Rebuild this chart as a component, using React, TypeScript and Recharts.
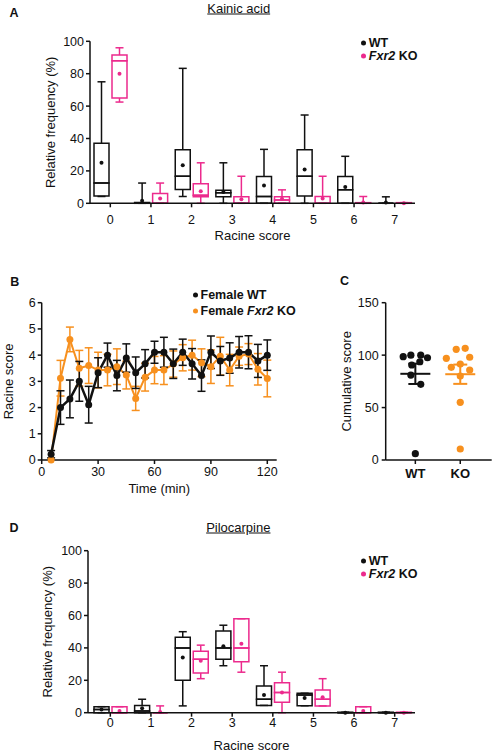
import React from "react";
import {
  ComposedChart,
  Bar,
  XAxis,
  YAxis,
  LineChart,
  Line,
  ErrorBar,
  ScatterChart,
  Scatter,
} from "recharts";

const FONT = '"Liberation Sans", Arial, Helvetica, sans-serif';
const INK = "#111111";
const PINK = "#EC2A8D";
const ORANGE = "#F7901E";

// ---- A / D: Racine score categories ----
const racineScores = ["0", "1", "2", "3", "4", "5", "6", "7"];

// A: kainic acid, WT
const kaWtMin = [4.2, 0, 4.2, 0, 0, 0, 0, 0];
const kaWtQ1 = [4.5, 0, 8.5, 4, 0, 4.5, 0, 0];
const kaWtMedian = [12.5, 0, 16.7, 6.5, 4.2, 16.7, 8.3, 0];
const kaWtQ3 = [37, 0.5, 33, 8, 16.5, 33, 16.5, 0];
const kaWtMax = [75, 12.5, 83.3, 25, 33.3, 54.5, 29, 4];
const kaWtMean = [25, 1.5, 23.5, 7, 11, 20.8, 10, 0.5];

// A: kainic acid, Fxr2 KO
const kaKoMin = [62.5, 0, 0, 0, 0, 0, 0, 0];
const kaKoQ1 = [65, 0, 4, 0, 0, 0, 0, 0];
const kaKoMedian = [88, 0, 5, 0, 2, 0, 0, 0];
const kaKoQ3 = [91.5, 6, 12, 4, 4, 4.2, 0.4, 0.4];
const kaKoMax = [96, 12.5, 25, 16.7, 8.3, 16.7, 4.2, 0.4];
const kaKoMean = [80, 3, 7.5, 2.5, 2.8, 3, 0.5, 0];

// D: pilocarpine, WT
const piWtMin = [0, 0, 4.2, 29, 4.5, 4.3, 0, 0];
const piWtQ1 = [0, 0, 20, 33, 4.5, 4.3, 0, 0];
const piWtMedian = [2, 1, 40, 40, 8.3, 11, 0, 0];
const piWtQ3 = [3.7, 4.5, 46.5, 50.5, 16.5, 12, 0.3, 0.3];
const piWtMax = [3.7, 8.3, 50, 54, 29, 12, 0.3, 0.3];
const piWtMean = [2, 2.7, 34, 41, 11, 9, 0, 0];

// D: pilocarpine, Fxr2 KO
const piKoMin = [0, 0, 21, 25, 0, 4.2, 0, 0];
const piKoQ1 = [0, 0, 24.5, 31.5, 6.5, 4.2, 0, 0];
const piKoMedian = [0, 0, 33, 40, 12.5, 8.3, 0, 0];
const piKoQ3 = [3.7, 0, 38, 58, 18.5, 14, 3.7, 0.3];
const piKoMax = [3.7, 4.2, 41.7, 58, 25, 21, 3.7, 0.3];
const piKoMean = [1, 0.5, 32, 42.5, 12.5, 9.5, 1, 0];

const freqTicks = [0, 20, 40, 60, 80, 100];

// ---- B: Racine score over time ----
const time = [5, 10, 15, 20, 25, 30, 35, 40, 45, 50, 55, 60, 65, 70, 75, 80, 85, 90, 95, 100, 105, 110, 115, 120];
const wtScore = [0.22, 2.0, 2.33, 3.0, 2.11, 3.33, 4.0, 3.22, 3.89, 3.33, 3.67, 4.11, 4.11, 3.67, 4.11, 3.67, 3.22, 4.11, 3.78, 3.89, 4.11, 4.11, 3.78, 4.0];
const wtSem = [0.14, 0.64, 0.72, 0.76, 0.7, 0.57, 0.46, 0.58, 0.54, 0.6, 0.54, 0.42, 0.57, 0.56, 0.5, 0.58, 0.6, 0.62, 0.55, 0.58, 0.6, 0.63, 0.63, 0.58];
const koScore = [0, 3.12, 4.6, 3.5, 3.6, 3.43, 3.43, 3.56, 3.24, 2.35, 3.16, 3.43, 3.43, 3.66, 3.9, 4.0, 3.71, 3.56, 3.96, 3.43, 3.96, 4.04, 3.46, 3.11];
const koSem = [0, 0.68, 0.47, 0.68, 0.68, 0.68, 0.6, 0.68, 0.53, 0.46, 0.53, 0.52, 0.55, 0.5, 0.5, 0.57, 0.53, 0.64, 0.72, 0.6, 0.35, 0.4, 0.6, 0.7];
const timeTicks = [0, 30, 60, 90, 120];
const scoreTicks = [0, 1, 2, 3, 4, 5, 6];

// ---- C: cumulative score per animal ----
const wtCumulative = [98.5, 100, 100, 97.5, 90.6, 93.7, 81, 72.2, 6];
const wtJitter = [-0.27, -0.1, 0.12, 0.27, -0.08, 0.1, -0.1, 0.12, 0];
const koCumulative = [97, 105.5, 106.5, 98, 88.4, 91.5, 85.8, 80, 55, 10.5];
const koJitter = [-0.31, -0.09, 0.11, 0.21, -0.2, 0, 0.21, 0, 0, 0];
const groupMean = [82.2, 81.8];
const groupSem = [9.7, 9.2];
const groupNames = ["WT", "KO"];
const cumulativeTicks = [0, 50, 100, 150];

type Stats = { min: number[]; q1: number[]; med: number[]; q3: number[]; max: number[]; mean: number[] };

// stacked segments: base -> lower whisker -> lower box -> upper box -> upper whisker
function boxTable(wt: Stats, ko: Stats) {
  return racineScores.map((score, i) => ({
    score,
    wtBase: wt.min[i],
    wtLow: wt.q1[i] - wt.min[i],
    wtBox1: wt.med[i] - wt.q1[i],
    wtBox2: wt.q3[i] - wt.med[i],
    wtHigh: wt.max[i] - wt.q3[i],
    wtMean: wt.mean[i],
    koBase: ko.min[i],
    koLow: ko.q1[i] - ko.min[i],
    koBox1: ko.med[i] - ko.q1[i],
    koBox2: ko.q3[i] - ko.med[i],
    koHigh: ko.max[i] - ko.q3[i],
    koMean: ko.mean[i],
  }));
}

const kainicData = boxTable(
  { min: kaWtMin, q1: kaWtQ1, med: kaWtMedian, q3: kaWtQ3, max: kaWtMax, mean: kaWtMean },
  { min: kaKoMin, q1: kaKoQ1, med: kaKoMedian, q3: kaKoQ3, max: kaKoMax, mean: kaKoMean }
);
const pilocarpineData = boxTable(
  { min: piWtMin, q1: piWtQ1, med: piWtMedian, q3: piWtQ3, max: piWtMax, mean: piWtMean },
  { min: piKoMin, q1: piKoQ1, med: piKoMedian, q3: piKoQ3, max: piKoMax, mean: piKoMean }
);

const timeData = time.map((t, i) => ({
  time: t,
  wt: wtScore[i],
  wtErr: wtSem[i],
  ko: koScore[i],
  koErr: koSem[i],
}));

const wtPoints = wtCumulative.map((v, i) => ({ x: 1 + wtJitter[i], y: v }));
const koPoints = koCumulative.map((v, i) => ({ x: 2 + koJitter[i], y: v }));
const wtSummary = [{ x: 1, y: groupMean[0], err: groupSem[0] }];
const koSummary = [{ x: 2, y: groupMean[1], err: groupSem[1] }];

const SW = 1.5;
const CAP = 8;

function span(p: any) {
  const top = Math.min(p.y, p.y + p.height);
  const bottom = Math.max(p.y, p.y + p.height);
  return { cx: p.x + p.width / 2, top, bottom };
}

const emptyShape = () => <g />;

function whisker(color: string, capAt: "top" | "bottom") {
  return (p: any) => {
    const { cx, top, bottom } = span(p);
    const cy = capAt === "top" ? top : bottom;
    return (
      <g>
        <line x1={cx} x2={cx} y1={top} y2={bottom} stroke={color} strokeWidth={SW} />
        <line x1={cx - CAP / 2} x2={cx + CAP / 2} y1={cy} y2={cy} stroke={color} strokeWidth={SW} />
      </g>
    );
  };
}

function boxPart(color: string) {
  return (p: any) => {
    const { top, bottom } = span(p);
    const d = `M${p.x},${top}H${p.x + p.width}V${bottom}H${p.x}Z`;
    return <path d={d} fill="none" stroke={color} strokeWidth={SW} />;
  };
}

function meanDot(color: string) {
  return (p: any) => <circle cx={p.x + p.width / 2} cy={p.y} r={2} fill={color} />;
}

const tickStyle = { fill: INK, fontSize: 12.5, fontFamily: FONT };
const axisStyle = { stroke: INK, strokeWidth: SW };
const titleStyle = { fill: INK, fontSize: 13, fontFamily: FONT };

// plot area is always 162px tall (0-100 %)
function BoxPanel({ data, marginTop, marginLeft, height, xHeight, tickMargin, padLeft, labelX, labelOffset }: any) {
  return (
    <ComposedChart
      width={494}
      height={height}
      data={data}
      barSize={15}
      barGap={3}
      margin={{ top: marginTop, right: 79, bottom: Math.max(0, height - marginTop - 162 - xHeight), left: marginLeft }}
    >
      <XAxis
        dataKey="score"
        height={xHeight}
        padding={{ left: padLeft, right: 0 }}
        tick={tickStyle}
        tickSize={4}
        tickMargin={tickMargin}
        axisLine={axisStyle}
        tickLine={axisStyle}
        label={{ value: "Racine score", position: "insideBottom", offset: labelOffset, ...titleStyle }}
      />
      <XAxis xAxisId="mean" dataKey="score" hide padding={{ left: padLeft, right: 0 }} />
      <YAxis
        width={40}
        domain={[0, 100]}
        ticks={freqTicks}
        tick={tickStyle}
        tickSize={4}
        tickMargin={2}
        axisLine={axisStyle}
        tickLine={axisStyle}
        label={{
          value: "Relative frequency (%)",
          angle: -90,
          position: "insideLeft",
          offset: labelX,
          style: { textAnchor: "middle" },
          ...titleStyle,
        }}
      />
      <Bar dataKey="wtBase" stackId="wt" shape={emptyShape} isAnimationActive={false} />
      <Bar dataKey="wtLow" stackId="wt" shape={whisker(INK, "bottom")} isAnimationActive={false} />
      <Bar dataKey="wtBox1" stackId="wt" shape={boxPart(INK)} isAnimationActive={false} />
      <Bar dataKey="wtBox2" stackId="wt" shape={boxPart(INK)} isAnimationActive={false} />
      <Bar dataKey="wtHigh" stackId="wt" shape={whisker(INK, "top")} isAnimationActive={false} />
      <Bar dataKey="koBase" stackId="ko" shape={emptyShape} isAnimationActive={false} />
      <Bar dataKey="koLow" stackId="ko" shape={whisker(PINK, "bottom")} isAnimationActive={false} />
      <Bar dataKey="koBox1" stackId="ko" shape={boxPart(PINK)} isAnimationActive={false} />
      <Bar dataKey="koBox2" stackId="ko" shape={boxPart(PINK)} isAnimationActive={false} />
      <Bar dataKey="koHigh" stackId="ko" shape={whisker(PINK, "top")} isAnimationActive={false} />
      <Bar dataKey="wtMean" xAxisId="mean" shape={meanDot(INK)} isAnimationActive={false} />
      <Bar dataKey="koMean" xAxisId="mean" shape={meanDot(PINK)} isAnimationActive={false} />
    </ComposedChart>
  );
}

function Txt({ x, y, children, size = 13, bold = false, underline = false, align = "center", color = INK }: any) {
  return (
    <div
      style={{
        position: "absolute",
        left: x,
        top: y,
        transform: `translate(${align === "center" ? "-50%" : "0"}, -50%)`,
        fontSize: size,
        fontWeight: bold ? 700 : 400,
        textDecoration: underline ? "underline" : "none",
        lineHeight: 1,
        whiteSpace: "nowrap",
        color,
      }}
    >
      {children}
    </div>
  );
}

function Key({ x, y, color, children }: any) {
  return (
    <div style={{ position: "absolute", left: x - 2.5, top: y, transform: "translateY(-50%)", display: "flex", alignItems: "center", height: 11, lineHeight: "11px", whiteSpace: "nowrap" }}>
      <span style={{ width: 5, height: 5, borderRadius: "50%", background: color, marginRight: 3 }} />
      <span style={{ fontSize: 12.5, fontWeight: 700, color: INK }}>{children}</span>
    </div>
  );
}

const dotShape = (color: string) => (p: any) => <circle cx={p.cx} cy={p.cy} r={3.6} fill={color} />;
const meanLine = (color: string) => (p: any) => (
  <line x1={p.cx - 15} x2={p.cx + 15} y1={p.cy} y2={p.cy} stroke={color} strokeWidth={2} />
);

export default function App() {
  return (
    <div style={{ position: "absolute", left: 0, top: 0, width: 494, height: 752, background: "#fff", fontFamily: FONT, color: INK, overflow: "hidden" }}>
      {/* A */}
      <div style={{ position: "absolute", left: 0, top: 0 }}>
        <BoxPanel data={kainicData} marginTop={41.3} marginLeft={50} height={250} xHeight={40} tickMargin={8} padLeft={0} labelX={0} labelOffset={3.5} />
      </div>

      {/* B */}
      <div style={{ position: "absolute", left: 0, top: 250 }}>
        <LineChart width={300} height={250} data={timeData} margin={{ top: 52.7, right: 23.3, bottom: 5, left: 11.7 }}>
          <XAxis
            dataKey="time"
            type="number"
            domain={[0, 125]}
            ticks={timeTicks}
            height={35}
            tick={tickStyle}
            tickSize={4}
            tickMargin={3}
            axisLine={axisStyle}
            tickLine={axisStyle}
            label={{ value: "Time (min)", position: "insideBottom", offset: 2.2, ...titleStyle }}
          />
          <YAxis
            width={30}
            domain={[0, 6]}
            ticks={scoreTicks}
            tick={tickStyle}
            tickSize={4}
            tickMargin={2}
            axisLine={axisStyle}
            tickLine={axisStyle}
            label={{ value: "Racine score", angle: -90, position: "insideLeft", offset: -3.4, style: { textAnchor: "middle" }, ...titleStyle }}
          />
          <Line dataKey="ko" stroke={ORANGE} strokeWidth={2} dot={{ r: 3.5, fill: ORANGE, stroke: ORANGE, strokeWidth: 0 }} activeDot={false} isAnimationActive={false}>
            <ErrorBar dataKey="koErr" direction="y" width={4} stroke={ORANGE} strokeWidth={1.5} />
          </Line>
          <Line dataKey="wt" stroke={INK} strokeWidth={2.5} dot={{ r: 3.5, fill: INK, stroke: INK, strokeWidth: 0 }} activeDot={false} isAnimationActive={false}>
            <ErrorBar dataKey="wtErr" direction="y" width={4} stroke={INK} strokeWidth={1.5} />
          </Line>
        </LineChart>
      </div>

      {/* C */}
      <div style={{ position: "absolute", left: 300, top: 250 }}>
        <ScatterChart width={194} height={250} margin={{ top: 52.7, right: 2.3, bottom: 5, left: 50.7 }}>
          <XAxis
            dataKey="x"
            type="number"
            domain={[0.34, 2.7]}
            ticks={[1, 2]}
            tickFormatter={(v: number) => groupNames[Math.round(v) - 1]}
            height={35}
            tick={{ ...tickStyle, fontSize: 13, fontWeight: 700 }}
            tickSize={4}
            tickMargin={5}
            axisLine={axisStyle}
            tickLine={axisStyle}
          />
          <YAxis
            dataKey="y"
            type="number"
            width={35}
            domain={[0, 150]}
            ticks={cumulativeTicks}
            tick={tickStyle}
            tickSize={4}
            tickMargin={3}
            axisLine={axisStyle}
            tickLine={axisStyle}
            label={{ value: "Cumulative score", angle: -90, position: "insideLeft", offset: -4, style: { textAnchor: "middle" }, ...titleStyle }}
          />
          <Scatter data={wtPoints} shape={dotShape(INK)} isAnimationActive={false} />
          <Scatter data={koPoints} shape={dotShape(ORANGE)} isAnimationActive={false} />
          <Scatter data={wtSummary} shape={meanLine(INK)} isAnimationActive={false}>
            <ErrorBar dataKey="err" direction="y" width={7} stroke={INK} strokeWidth={2} />
          </Scatter>
          <Scatter data={koSummary} shape={meanLine(ORANGE)} isAnimationActive={false}>
            <ErrorBar dataKey="err" direction="y" width={7} stroke={ORANGE} strokeWidth={2} />
          </Scatter>
        </ScatterChart>
      </div>

      {/* D */}
      <div style={{ position: "absolute", left: 0, top: 500 }}>
        <BoxPanel data={pilocarpineData} marginTop={50.7} marginLeft={48} height={252} xHeight={39.3} tickMargin={1} padLeft={2} labelX={-0.5} labelOffset={2.5} />
      </div>

      {/* panel letters, titles, legends */}
      <Txt x={14} y={13.3} bold size={12.5}>A</Txt>
      <Txt x={14.7} y={281.7} bold size={12.5}>B</Txt>
      <Txt x={344.5} y={280.8} bold size={12.5}>C</Txt>
      <Txt x={14} y={528.3} bold size={12.5}>D</Txt>
      <Txt x={238.7} y={8.3} underline>Kainic acid</Txt>
      <Txt x={238.3} y={527.3} underline>Pilocarpine</Txt>

      <Key x={363.3} y={43.3} color={INK}>WT</Key>
      <Key x={363.3} y={56} color={PINK}><i>Fxr2</i> KO</Key>
      <Key x={195} y={295} color={INK}>Female WT</Key>
      <Key x={195} y={310.7} color={ORANGE}>Female <i>Fxr2</i> KO</Key>
      <Key x={363.3} y={561} color={INK}>WT</Key>
      <Key x={363.3} y={574} color={PINK}><i>Fxr2</i> KO</Key>
    </div>
  );
}
